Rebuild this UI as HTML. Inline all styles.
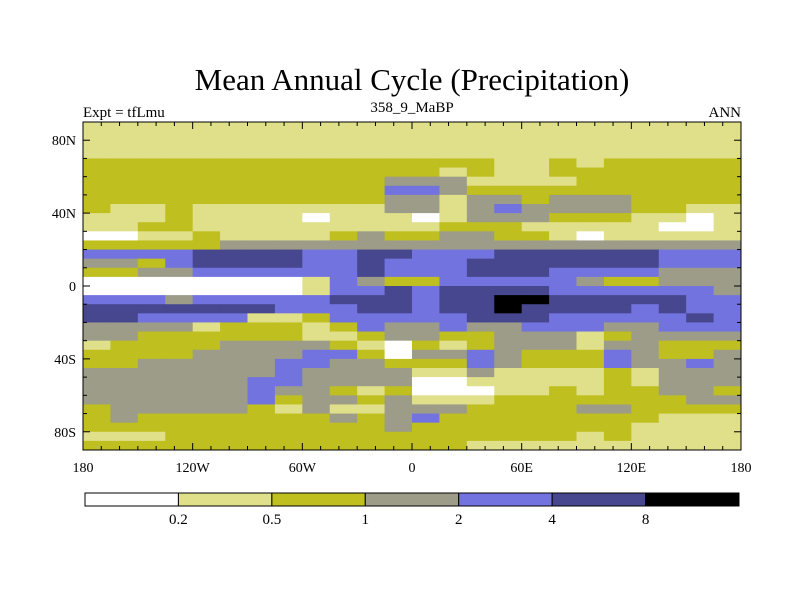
<!DOCTYPE html>
<html><head><meta charset="utf-8"><style>
body{margin:0;background:#fff;width:800px;height:600px;overflow:hidden}
text{font-family:"Liberation Serif",serif;fill:#000}
</style></head><body>
<svg id="chart" width="800" height="600" xmlns="http://www.w3.org/2000/svg">
<text x="412" y="90" font-size="31" text-anchor="middle">Mean Annual Cycle (Precipitation)</text>
<text x="83" y="117" font-size="15">Expt = tfLmu</text>
<text x="412" y="112" font-size="15" text-anchor="middle">358_9_MaBP</text>
<text x="741" y="117" font-size="15" text-anchor="end">ANN</text>
<g id="cells"></g>
<g id="axes"></g>
<g id="cbar"></g>
</svg>
<script>
const levelColors=["#ffffff","#e0e08a","#bfbf1f","#9c9c88","#7373e0","#474790","#000000"];
const levelLabels=["0.2","0.5","1","2","4","8"];
const latTickLabels=["80N","40N","0","40S","80S"];
const latTickValues=[80,40,0,-40,-80];
const lonTickLabels=["180","120W","60W","0","60E","120E","180"];
const lonTickValues=[-180,-120,-60,0,60,120,180];
// rows 90N->90S (5 deg), cols 180W->180E (15 deg); level index
const fieldRows=[
"111111111111111111111111",
"111111111111111111111111",
"111111111111111111111111",
"111111111111111111111111",
"222222222222222112122222",
"222222222222212112222222",
"222222222223331111222222",
"222222222224432222222222",
"222222222223313323332222",
"211211111113313433332211",
"111211110111013332221101",
"112211111111122211111001",
"001121111232233221011111",
"222223333333333333333333",
"444455554455444555555444",
"332455554454445555555444",
"223344444454445554444333",
"000000001432244444322333",
"000000001445455554444443",
"444344444555455665555544",
"555555544455455655554544",
"554444112444445554444454",
"333312221243343344433444",
"332222221123322333123333",
"122223333210212333133222",
"222233334420334322243223",
"223333344332224322243343",
"333333343333113111121333",
"333333443333001111121333",
"333333433212000112122332",
"333333423323111222222233",
"233333213113332222332222",
"232222222323422222222111",
"222222222223222222221111",
"111222222222222222121111",
"222222222222221111111111"];
const X0=83,X1=741,Y0=122,Y1=450;
const xs=lon=>X0+(lon+180)/360*(X1-X0);
const ys=lat=>Y0+(90-lat)/180*(Y1-Y0);
const NS="http://www.w3.org/2000/svg";
function mk(tag,attrs,parent){const e=document.createElementNS(NS,tag);for(const k in attrs)e.setAttribute(k,attrs[k]);parent.appendChild(e);return e;}
const cells=document.getElementById('cells');
const dLat=180/fieldRows.length;
fieldRows.forEach((row,r)=>{
  const dLon=360/row.length;
  for(let c=0;c<row.length;c++){
    const lv=+row[c];
    const lon=-180+c*dLon,lat=90-r*dLat;
    const x=xs(lon),y=ys(lat);
    const e=mk('rect',{x:x,y:y,width:xs(lon+dLon)-x+0.5,height:ys(lat-dLat)-y+0.5,fill:levelColors[lv]},cells);
    
    
  }
});
const ax=document.getElementById('axes');
const frame=mk('rect',{x:X0,y:Y0,width:X1-X0,height:Y1-Y0,fill:'none',stroke:'#000','stroke-width':1},ax);


for(let lon=-180;lon<=180;lon+=10){
  const x=xs(lon),L=(lon%60===0)?7:4;
  mk('line',{x1:x,x2:x,y1:Y1,y2:Y1-L,stroke:'#000'},ax);
  mk('line',{x1:x,x2:x,y1:Y0,y2:Y0+L,stroke:'#000'},ax);
}
for(let lat=-90;lat<=90;lat+=10){
  const y=ys(lat),L=(lat%40===0)?7:4;
  mk('line',{x1:X0,x2:X0+L,y1:y,y2:y,stroke:'#000'},ax);
  mk('line',{x1:X1,x2:X1-L,y1:y,y2:y,stroke:'#000'},ax);
}
lonTickLabels.forEach((t,i)=>{
  const e=mk('text',{x:xs(lonTickValues[i]),y:472,'font-size':14,'text-anchor':'middle'},ax);e.textContent=t;
  
  
});
latTickLabels.forEach((t,i)=>{
  const e=mk('text',{x:76,y:ys(latTickValues[i])+5,'font-size':14,'text-anchor':'end'},ax);e.textContent=t;
  
  
});
const cb=document.getElementById('cbar');
const CX0=85,CX1=739,CY=493,CH=13,bw=(CX1-CX0)/levelColors.length;
levelColors.forEach((col,i)=>{
  const e=mk('rect',{x:CX0+i*bw,y:CY,width:bw,height:CH,fill:col,stroke:'#000','stroke-width':1},cb);
  
  
});
levelLabels.forEach((t,i)=>{
  const e=mk('text',{x:CX0+(i+1)*bw,y:524,'font-size':15,'text-anchor':'middle'},cb);e.textContent=t;
  
  
});
</script>
</body></html>
